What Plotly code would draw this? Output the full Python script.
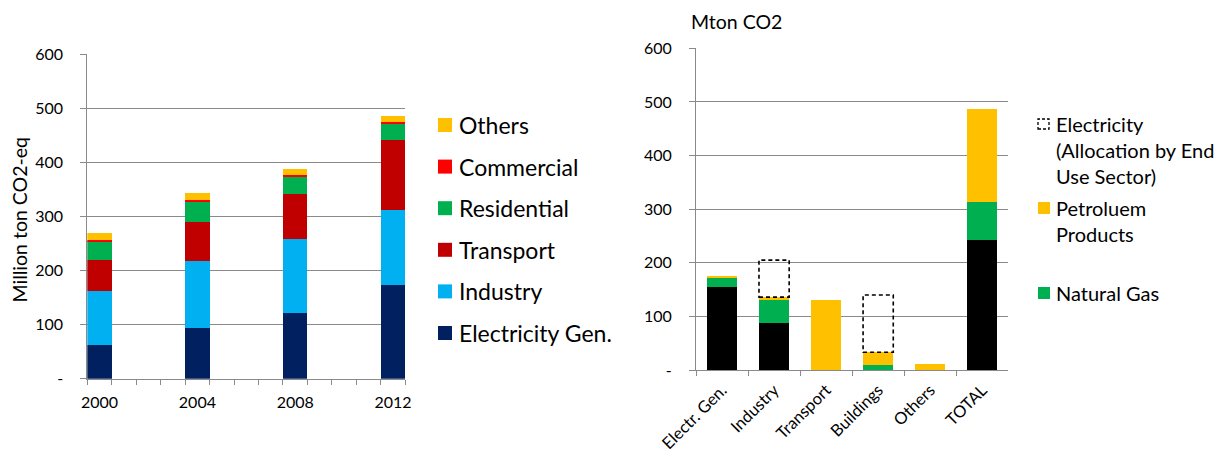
import plotly.graph_objects as go

# ---- Left panel: emissions by sector over time ----
years = [2000, 2004, 2008, 2012]
sector_names = ["Electricity Gen.", "Industry", "Transport", "Residential", "Commercial", "Others"]
sector_colors = ["#002060", "#00B0F0", "#C00000", "#00B050", "#FF0000", "#FFC000"]
electricity_gen = [62, 93, 121, 174]
industry = [100, 125, 138, 138]
transport = [58, 72, 82, 130]
residential = [34, 38, 32, 30]
commercial = [3, 3, 3, 3]
others = [12, 12, 11, 11]
sector_values = [electricity_gen, industry, transport, residential, commercial, others]

# ---- Right panel: 2012 emissions by fuel and end-use sector ----
end_use = ["Electr. Gen.", "Industry", "Transport", "Buildings", "Others", "TOTAL"]
coal = [154, 88, 0, 0, 0, 243]
natural_gas = [18, 43, 0, 9, 0, 70]
petroleum = [3, 5, 131, 24, 11, 173]
electricity_alloc = [0, 69, 0, 107, 0, 0]

y_ticks = [0, 100, 200, 300, 400, 500, 600]
y_ticktext = ["-"] + [str(v) for v in y_ticks[1:]]

W, H = 1225, 454
FONT = "Lato"
GRID = "#8a8a8a"


def px_x(p):
    return p / W


def px_y(p):
    return 1 - p / H


fig = go.Figure()

for name, color, vals in zip(sector_names, sector_colors, sector_values):
    fig.add_trace(go.Bar(
        x=years, y=vals, name=name, width=1,
        marker=dict(color=color, line=dict(width=0)),
        xaxis="x", yaxis="y", showlegend=False,
    ))

for name, color, vals in [("Coal", "#000000", coal),
                          ("Natural Gas", "#00B050", natural_gas),
                          ("Petroluem Products", "#FFC000", petroleum)]:
    fig.add_trace(go.Bar(
        x=end_use, y=vals, name=name,
        marker=dict(color=color, line=dict(width=0)),
        xaxis="x2", yaxis="y2", showlegend=False,
    ))

# Dashed outlines for electricity allocated to end-use sectors, stacked on top
shapes = []
half = 0.29
for i, e in enumerate(electricity_alloc):
    if e > 0:
        base = coal[i] + natural_gas[i] + petroleum[i]
        shapes.append(dict(
            type="rect", xref="x2", yref="y2",
            x0=i - half, x1=i + half, y0=base, y1=base + e,
            line=dict(color="black", width=1.6, dash="4px,3px"),
            fillcolor="rgba(0,0,0,0)", layer="above",
        ))

annotations = []

# Left legend (top entry first)
leg_y0, leg_step = 125, 41.6
for k, (name, color) in enumerate(zip(reversed(sector_names), reversed(sector_colors))):
    yc = leg_y0 + k * leg_step
    shapes.append(dict(type="rect", xref="paper", yref="paper",
                       x0=px_x(438), x1=px_x(452), y0=px_y(yc + 7), y1=px_y(yc - 7),
                       fillcolor=color, line=dict(width=0)))
    annotations.append(dict(text=name, xref="paper", yref="paper",
                            x=px_x(457), y=px_y(yc), xanchor="left", yanchor="middle",
                            showarrow=False, font=dict(family=FONT, size=23, color="black")))

# Right legend
right_legend = [
    ("Electricity<br>(Allocation by End<br>Use Sector)", None, 124),
    ("Petroluem<br>Products", "#FFC000", 208),
    ("Natural Gas", "#00B050", 293),
]
for text, color, yc in right_legend:
    if color is None:
        shapes.append(dict(type="rect", xref="paper", yref="paper",
                           x0=px_x(1038), x1=px_x(1049), y0=px_y(yc + 5), y1=px_y(yc - 5),
                           fillcolor="rgba(0,0,0,0)",
                           line=dict(color="black", width=1.3, dash="3px,2px")))
    else:
        shapes.append(dict(type="rect", xref="paper", yref="paper",
                           x0=px_x(1038), x1=px_x(1050), y0=px_y(yc + 6), y1=px_y(yc - 6),
                           fillcolor=color, line=dict(width=0)))
    annotations.append(dict(text=text, xref="paper", yref="paper", align="left",
                            x=px_x(1054), y=px_y(yc - 14), xanchor="left", yanchor="top",
                            showarrow=False, font=dict(family=FONT, size=20, color="black")))

# Axis titles
annotations.append(dict(text="Million ton CO2-eq", xref="paper", yref="paper",
                        x=px_x(18.5), y=px_y(220), textangle=-90,
                        xanchor="center", yanchor="middle", showarrow=False,
                        font=dict(family=FONT, size=19.5, color="black")))
annotations.append(dict(text="Mton CO2", xref="paper", yref="paper",
                        x=px_x(689), y=px_y(21), xanchor="left", yanchor="middle",
                        showarrow=False, font=dict(family=FONT, size=19.5, color="black")))

tick_font = dict(family=FONT, size=16, color="black")

fig.update_layout(
    width=W, height=H,
    margin=dict(l=0, r=0, t=0, b=0, autoexpand=False),
    paper_bgcolor="white", plot_bgcolor="white",
    barmode="stack", bargap=0.42,
    showlegend=False,
    shapes=shapes, annotations=annotations,
    xaxis=dict(
        domain=[px_x(87.3), px_x(405.3)], anchor="y", automargin=False,
        range=[years[0] - 0.5, years[-1] + 0.5],
        tickvals=years, ticktext=[str(y) for y in years],
        ticks="", ticklabelstandoff=9, tickfont=tick_font,
        minor=dict(tick0=years[0] - 0.5, dtick=1, ticks="outside", ticklen=5,
                   tickcolor=GRID, showgrid=False),
        showgrid=False, showline=True, linecolor=GRID, linewidth=1, zeroline=False,
    ),
    yaxis=dict(
        domain=[px_y(378.7), px_y(54)], anchor="x", automargin=False,
        range=[0, 600], tickvals=y_ticks, ticktext=y_ticktext,
        ticks="outside", ticklen=6, tickcolor=GRID, ticklabelstandoff=14,
        tickfont=tick_font,
        showgrid=True, gridcolor=GRID, gridwidth=1,
        showline=True, linecolor=GRID, zeroline=False,
    ),
    xaxis2=dict(
        domain=[px_x(696), px_x(1008.3)], anchor="y2", automargin=False,
        type="category", tickangle=-45, tickson="boundaries",
        ticks="outside", ticklen=5, tickcolor=GRID,
        tickfont=dict(family=FONT, size=16.5, color="black"), ticklabelstandoff=3,
        showgrid=False, showline=True, linecolor=GRID, zeroline=False,
    ),
    yaxis2=dict(
        domain=[px_y(370), px_y(48.3)], anchor="x2", automargin=False,
        range=[0, 600], tickvals=y_ticks, ticktext=y_ticktext,
        ticks="outside", ticklen=6, tickcolor=GRID, ticklabelstandoff=14,
        tickfont=tick_font,
        showgrid=True, gridcolor=GRID, gridwidth=1,
        showline=True, linecolor=GRID, zeroline=False,
    ),
)

fig.write_html("out.html")
